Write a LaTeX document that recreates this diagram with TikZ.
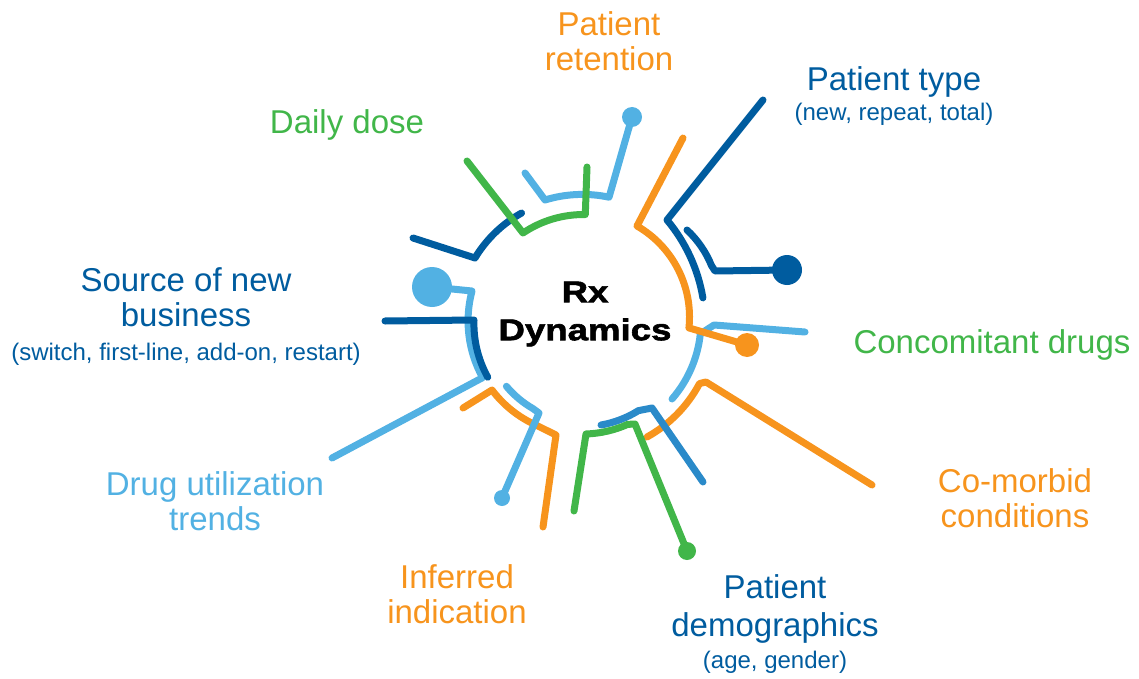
\documentclass[tikz,border=0pt]{standalone}
\usepackage{fontspec}
\setmainfont{Liberation Sans}
\newfontfamily\rxfont[FakeStretch=1.22, FakeBold=2]{Liberation Sans Bold}
\definecolor{rxorange}{HTML}{F7941D}
\definecolor{rxgreen}{HTML}{41B649}
\definecolor{rxlight}{HTML}{52B1E3}
\definecolor{rxdark}{HTML}{005C9F}
\definecolor{rxmid}{HTML}{2A8AC9}
\tikzset{
  branch/.style={line width=7pt, line cap=round, line join=round},
  lbl/.style={align=center, inner sep=0pt, font=\fontsize{33}{35}\selectfont},
  sublbl/.style={align=center, inner sep=0pt, font=\fontsize{24}{28}\selectfont}
}
\begin{document}
\begin{tikzpicture}[x=1pt,y=1pt]
    \useasboundingbox (0,0) rectangle (1139,-679);

    \draw[branch, rxlight] (432,-287) -- (472,-291) arc[start angle=165, end angle=209, radius=116.5] -- (332,-458);
    \draw[branch, rxdark] (385,-321) -- (474,-320) arc[start angle=178, end angle=209, radius=110];
    \draw[branch, rxdark] (413,-238) -- (475,-258) arc[start angle=149, end angle=119, radius=125];
    \draw[branch, rxlight] (525,-173) -- (545,-200) arc[start angle=107, end angle=78, radius=128] -- (632,-117);
    \draw[branch, rxgreen] (467,-161) -- (523,-233) arc[start angle=124, end angle=89, radius=108] -- (587,-167);
    \draw[branch, rxdark] (763,-100) -- (667,-220) arc[start angle=40, end angle=9.5, radius=163];
    \draw[branch, rxdark] (687,-230) arc[start angle=47, end angle=22, radius=100] -- (715,-271) -- (787,-270);
    \draw[branch, rxlight] (672,-399) arc[start angle=-41, end angle=-6, radius=118] -- (714,-325) -- (805,-332);
    \draw[branch, rxorange] (683,-138) -- (637,-226) arc[start angle=60, end angle=-6, radius=105] -- (747,-345);
    \draw[branch, rxorange] (647,-437) arc[start angle=-61, end angle=-28, radius=132] -- (706,-382) -- (872,-485);
    \draw[branch, rxmid] (601,-425) arc[start angle=-80, end angle=-58, radius=105] -- (652,-408) -- (703,-482);
    \draw[branch, rxgreen] (574,-511) -- (586,-434) arc[start angle=-88, end angle=-66, radius=112] -- (635,-424) -- (687,-551);
    \draw[branch, rxorange] (463,-408) -- (492,-390) arc[start angle=217, end angle=246, radius=113] -- (556,-435) -- (543,-527);
    \draw[branch, rxlight] (506.4,-386.3) arc[start angle=220, end angle=240, radius=100] -- (539,-413) -- (502,-498);

    \fill[rxlight] (432,-287) circle (20);
    \fill[rxlight] (632,-117) circle (10);
    \fill[rxdark] (787,-270) circle (15);
    \fill[rxorange] (747,-345) circle (12);
    \fill[rxgreen] (687,-551) circle (9);
    \fill[rxlight] (502,-498) circle (8);

    \node[align=center, inner sep=0pt, font=\rxfont\fontsize{30}{38}\selectfont] (rx) at (585,-314) {Rx\\Dynamics};
    \node[lbl, text=rxorange] (retention) at (609,-41) {Patient\\retention};
    \node[lbl, text=rxdark] (type) at (894,-82) {Patient type};
    \node[sublbl, text=rxdark] (typesub) at (894,-114) {(new, repeat, total)};
    \node[lbl, text=rxgreen] (dose) at (347,-125) {Daily dose};
    \node[lbl, text=rxdark] (source) at (186,-297) {Source of new\\business};
    \node[sublbl, text=rxdark] (sourcesub) at (186,-354) {(switch, first-line, add-on, restart)};
    \node[lbl, text=rxgreen] (concomitant) at (992,-345) {Concomitant drugs};
    \node[lbl, text=rxlight] (trends) at (215,-501) {Drug utilization\\trends};
    \node[lbl, text=rxorange] (comorbid) at (1015,-498) {Co-morbid\\conditions};
    \node[lbl, text=rxorange] (indication) at (457,-594) {Inferred\\indication};
    \node[lbl, text=rxdark, font=\fontsize{33}{38}\selectfont] (demographics) at (775,-609) {Patient\\demographics};
    \node[sublbl, text=rxdark] (demosub) at (775,-662) {(age, gender)};
\end{tikzpicture}
\end{document}
